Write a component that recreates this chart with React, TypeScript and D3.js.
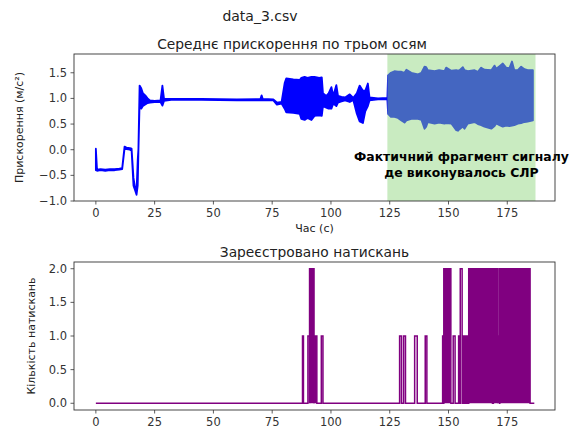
import { useEffect, useRef } from 'react';
import * as d3 from 'd3';

// mean acceleration: [time s, low, high] — low==high where the trace is a plain line
const accelTrace: [number, number, number][] = [
  [0.0, -0.40, 0.02],
  [0.5, -0.41, -0.39],
  [2.0, -0.40, -0.38],
  [4.0, -0.41, -0.39],
  [6.0, -0.40, -0.38],
  [8.0, -0.40, -0.38],
  [10.0, -0.39, -0.37],
  [11.2, -0.38, -0.36],
  [12.2, 0.02, 0.06],
  [13.0, 0.01, 0.04],
  [14.5, 0.0, 0.03],
  [15.2, -0.02, 0.02],
  [16.0, -0.70, -0.55],
  [16.6, -0.78, -0.72],
  [17.3, -0.88, -0.82],
  [17.8, -0.70, -0.20],
  [18.1, -0.05, 0.02],
  [18.6, 0.90, 1.25],
  [19.3, 0.80, 1.20],
  [20.0, 0.85, 1.10],
  [21.0, 0.88, 1.06],
  [22.0, 0.91, 1.0],
  [23.0, 0.92, 0.96],
  [25.0, 0.93, 0.95],
  [27.5, 0.93, 0.96],
  [28.3, 0.86, 1.25],
  [29.0, 0.95, 0.99],
  [32.0, 0.97, 0.99],
  [45.0, 0.97, 0.99],
  [60.0, 0.96, 0.98],
  [70.0, 0.96, 0.99],
  [70.5, 0.96, 1.06],
  [71.0, 0.96, 0.99],
  [75.5, 0.96, 0.98],
  [77.0, 0.88, 0.92],
  [79.0, 0.90, 0.93],
  [80.3, 0.80, 1.30],
  [81.0, 0.73, 1.39],
  [84.0, 0.72, 1.37],
  [86.7, 0.70, 1.36],
  [87.4, 0.60, 1.40],
  [88.8, 0.58, 1.42],
  [90.0, 0.62, 1.40],
  [91.7, 0.58, 1.42],
  [93.0, 0.66, 1.42],
  [95.0, 0.67, 1.40],
  [96.1, 0.66, 1.41],
  [96.6, 0.85, 1.10],
  [98.0, 0.82, 1.05],
  [99.0, 0.80, 1.10],
  [100.2, 0.80, 1.22],
  [101.0, 0.90, 1.05],
  [102.3, 0.85, 1.26],
  [103.0, 0.92, 1.05],
  [104.5, 0.94, 1.03],
  [106.0, 0.96, 1.02],
  [108.0, 0.93, 1.08],
  [109.5, 0.97, 1.01],
  [111.0, 0.70, 1.10],
  [112.2, 0.55, 1.25],
  [113.6, 0.52, 1.15],
  [114.6, 0.75, 1.15],
  [115.7, 0.85, 1.29],
  [116.4, 0.96, 1.02],
  [120.0, 0.98, 1.0],
  [124.0, 0.98, 1.01],
  [124.3, 0.70, 1.45],
  [125.5, 0.64, 1.50],
  [127.0, 0.64, 1.53],
  [128.5, 0.62, 1.52],
  [130.0, 0.57, 1.52],
  [131.3, 0.53, 1.50],
  [132.1, 0.57, 1.56],
  [134.2, 0.60, 1.50],
  [137.0, 0.60, 1.47],
  [138.5, 0.58, 1.50],
  [139.8, 0.41, 1.62],
  [140.5, 0.45, 1.61],
  [141.2, 0.54, 1.55],
  [144.1, 0.51, 1.53],
  [146.0, 0.53, 1.55],
  [148.3, 0.51, 1.53],
  [149.0, 0.52, 1.60],
  [151.2, 0.51, 1.54],
  [153.3, 0.38, 1.55],
  [154.0, 0.37, 1.54],
  [154.7, 0.40, 1.55],
  [156.1, 0.45, 1.61],
  [156.8, 0.41, 1.55],
  [158.2, 0.51, 1.53],
  [161.1, 0.54, 1.55],
  [162.5, 0.50, 1.52],
  [163.9, 0.48, 1.60],
  [165.3, 0.45, 1.56],
  [168.2, 0.41, 1.55],
  [169.6, 0.46, 1.64],
  [170.3, 0.51, 1.58],
  [171.7, 0.48, 1.63],
  [173.1, 0.45, 1.68],
  [174.5, 0.47, 1.60],
  [175.9, 0.46, 1.59],
  [177.0, 0.47, 1.72],
  [178.0, 0.48, 1.55],
  [179.5, 0.51, 1.55],
  [180.9, 0.52, 1.62],
  [182.3, 0.54, 1.57],
  [183.7, 0.55, 1.55],
  [185.9, 0.57, 1.55],
];

// CPR fragment highlighted on the top chart
const cprSpan: [number, number] = [124, 187];
const cprLabel = ['Фактичний фрагмент сигналу', 'де виконувалось СЛР'];

// single press pulses: [start, end, count]
const pressPulses: [number, number, number][] = [
  [87.9, 88.3, 1],
  [90.2, 90.9, 1],
  [95.9, 96.6, 1],
  [129.2, 130.0, 1],
  [130.9, 131.7, 1],
  [135.6, 136.7, 1],
  [140.1, 140.8, 1],
  [147.5, 147.8, 1],
  [152.0, 152.8, 1],
  [154.3, 154.6, 1],
  [155.0, 155.8, 2],
  [156.1, 156.6, 1],
  [156.9, 157.5, 1],
  [157.7, 158.3, 1],
  [171.1, 171.7, 1],
];

// dense bursts of presses (line toggles too fast to separate): [start, end, count]
const pressBursts: [number, number, number][] = [
  [90.9, 92.8, 2],
  [92.8, 94.0, 1],
  [148.0, 151.0, 2],
  [158.6, 168.7, 2],
  [169.1, 171.1, 2],
  [171.8, 184.7, 2],
];
const pressEnd = 186.5;

const xTicks = [0, 25, 50, 75, 100, 125, 150, 175];
const accelTicks = [-1.0, -0.5, 0.0, 0.5, 1.0, 1.5];
const pressTicks = [0.0, 0.5, 1.0, 1.5, 2.0];

const W = 573;
const H = 432;
const FONT = 'DejaVu Sans, sans-serif';

export default function App() {
  const svgRef = useRef<SVGSVGElement>(null);

  useEffect(() => {
    if (!svgRef.current) return;
    const svg = d3.select(svgRef.current);
    svg.selectAll('*').remove();

    svg.append('rect').attr('width', W).attr('height', H).attr('fill', '#fff');

    const left = 74, right = 555;
    const top1 = 54, bottom1 = 201;
    const top2 = 262, bottom2 = 410;

    const x = d3.scaleLinear().domain([-9.3, 195.3]).range([left, right]);
    const y1 = d3.scaleLinear().domain([-1.0, 1.866]).range([bottom1, top1]);
    const y2 = d3.scaleLinear().domain([-0.1, 2.1]).range([bottom2, top2]);

    const fmt = (v: number) => v.toFixed(1).replace('-', '\u2212');

    function drawAxes(yScale: d3.ScaleLinear<number, number>, yTicks: number[], top: number, bottom: number) {
      const g = svg.append('g');
      xTicks.forEach(t => {
        g.append('line')
          .attr('x1', x(t)).attr('x2', x(t))
          .attr('y1', bottom).attr('y2', bottom + 3.5)
          .attr('stroke', '#333').attr('stroke-width', 0.8);
        g.append('text')
          .attr('x', x(t)).attr('y', bottom + 16)
          .attr('text-anchor', 'middle')
          .attr('font-family', FONT).attr('font-size', '11.5px')
          .attr('fill', '#333')
          .text(String(t));
      });
      yTicks.forEach(v => {
        g.append('line')
          .attr('x1', left - 3.5).attr('x2', left)
          .attr('y1', yScale(v)).attr('y2', yScale(v))
          .attr('stroke', '#333').attr('stroke-width', 0.8);
        g.append('text')
          .attr('x', left - 7).attr('y', yScale(v) + 4)
          .attr('text-anchor', 'end')
          .attr('font-family', FONT).attr('font-size', '11.5px')
          .attr('fill', '#333')
          .text(fmt(v));
      });
      g.append('rect')
        .attr('x', left).attr('y', top)
        .attr('width', right - left).attr('height', bottom - top)
        .attr('fill', 'none').attr('stroke', '#333').attr('stroke-width', 0.9);
    }

    // --- top: mean acceleration ---
    const area = d3.area<[number, number, number]>()
      .x(d => x(d[0]))
      .y0(d => y1(d[1]))
      .y1(d => y1(d[2]));

    svg.append('path')
      .datum(accelTrace)
      .attr('d', area)
      .attr('fill', '#0000ff')
      .attr('stroke', '#0000ff')
      .attr('stroke-width', 1.8)
      .attr('stroke-linejoin', 'round');

    svg.append('rect')
      .attr('x', x(cprSpan[0])).attr('y', top1)
      .attr('width', x(cprSpan[1]) - x(cprSpan[0]))
      .attr('height', bottom1 - top1)
      .attr('fill', 'rgb(142,214,126)')
      .attr('opacity', 0.48);

    cprLabel.forEach((s, i) => {
      svg.append('text')
        .attr('x', x((cprSpan[0] + cprSpan[1]) / 2))
        .attr('y', 161 + i * 16)
        .attr('text-anchor', 'middle')
        .attr('font-family', FONT).attr('font-size', '12.4px')
        .attr('font-weight', 'bold')
        .attr('fill', '#000')
        .text(s);
    });

    drawAxes(y1, accelTicks, top1, bottom1);

    svg.append('text')
      .attr('x', 292).attr('y', 49)
      .attr('text-anchor', 'middle')
      .attr('font-family', FONT).attr('font-size', '13.8px')
      .attr('fill', '#222')
      .text('Середнє прискорення по трьом осям');

    svg.append('text')
      .attr('x', (left + right) / 2).attr('y', 232)
      .attr('text-anchor', 'middle')
      .attr('font-family', FONT).attr('font-size', '11px')
      .attr('fill', '#222')
      .text('Час (с)');

    svg.append('text')
      .attr('transform', `translate(23,${(top1 + bottom1) / 2}) rotate(-90)`)
      .attr('text-anchor', 'middle')
      .attr('font-family', FONT).attr('font-size', '11px')
      .attr('fill', '#222')
      .text('Прискорення (м/с²)');

    // --- bottom: registered presses ---
    const events = [...pressPulses, ...pressBursts].sort((a, b) => a[0] - b[0]);
    const steps: [number, number][] = [[0, 0]];
    events.forEach(([a, b, v]) => {
      steps.push([a, 0], [a, v], [b, v], [b, 0]);
    });
    steps.push([pressEnd, 0]);

    const burstArea = d3.area<[number, number, number]>()
      .x(d => x(d[0]))
      .y0(y2(0))
      .y1(d => y2(d[2]));

    pressBursts.forEach(b => {
      svg.append('path')
        .datum([b, [b[1], b[1], b[2]]] as [number, number, number][])
        .attr('d', burstArea)
        .attr('fill', '#800080');
    });

    const stepLine = d3.line<[number, number]>()
      .x(d => x(d[0]))
      .y(d => y2(d[1]));

    svg.append('path')
      .datum(steps)
      .attr('d', stepLine)
      .attr('fill', 'none')
      .attr('stroke', '#800080')
      .attr('stroke-width', 1.5);

    drawAxes(y2, pressTicks, top2, bottom2);

    svg.append('text')
      .attr('x', (left + right) / 2).attr('y', 257)
      .attr('text-anchor', 'middle')
      .attr('font-family', FONT).attr('font-size', '13.8px')
      .attr('fill', '#222')
      .text('Зареєстровано натискань');

    svg.append('text')
      .attr('transform', `translate(35,${(top2 + bottom2) / 2}) rotate(-90)`)
      .attr('text-anchor', 'middle')
      .attr('font-family', FONT).attr('font-size', '11px')
      .attr('fill', '#222')
      .text('Кількість натискань');

    svg.append('text')
      .attr('x', 260).attr('y', 21)
      .attr('text-anchor', 'middle')
      .attr('font-family', FONT).attr('font-size', '14px')
      .attr('fill', '#222')
      .text('data_3.csv');
  }, []);

  return (
    <svg
      ref={svgRef}
      width={W}
      height={H}
      style={{ position: 'absolute', left: 0, top: 0 }}
    />
  );
}
